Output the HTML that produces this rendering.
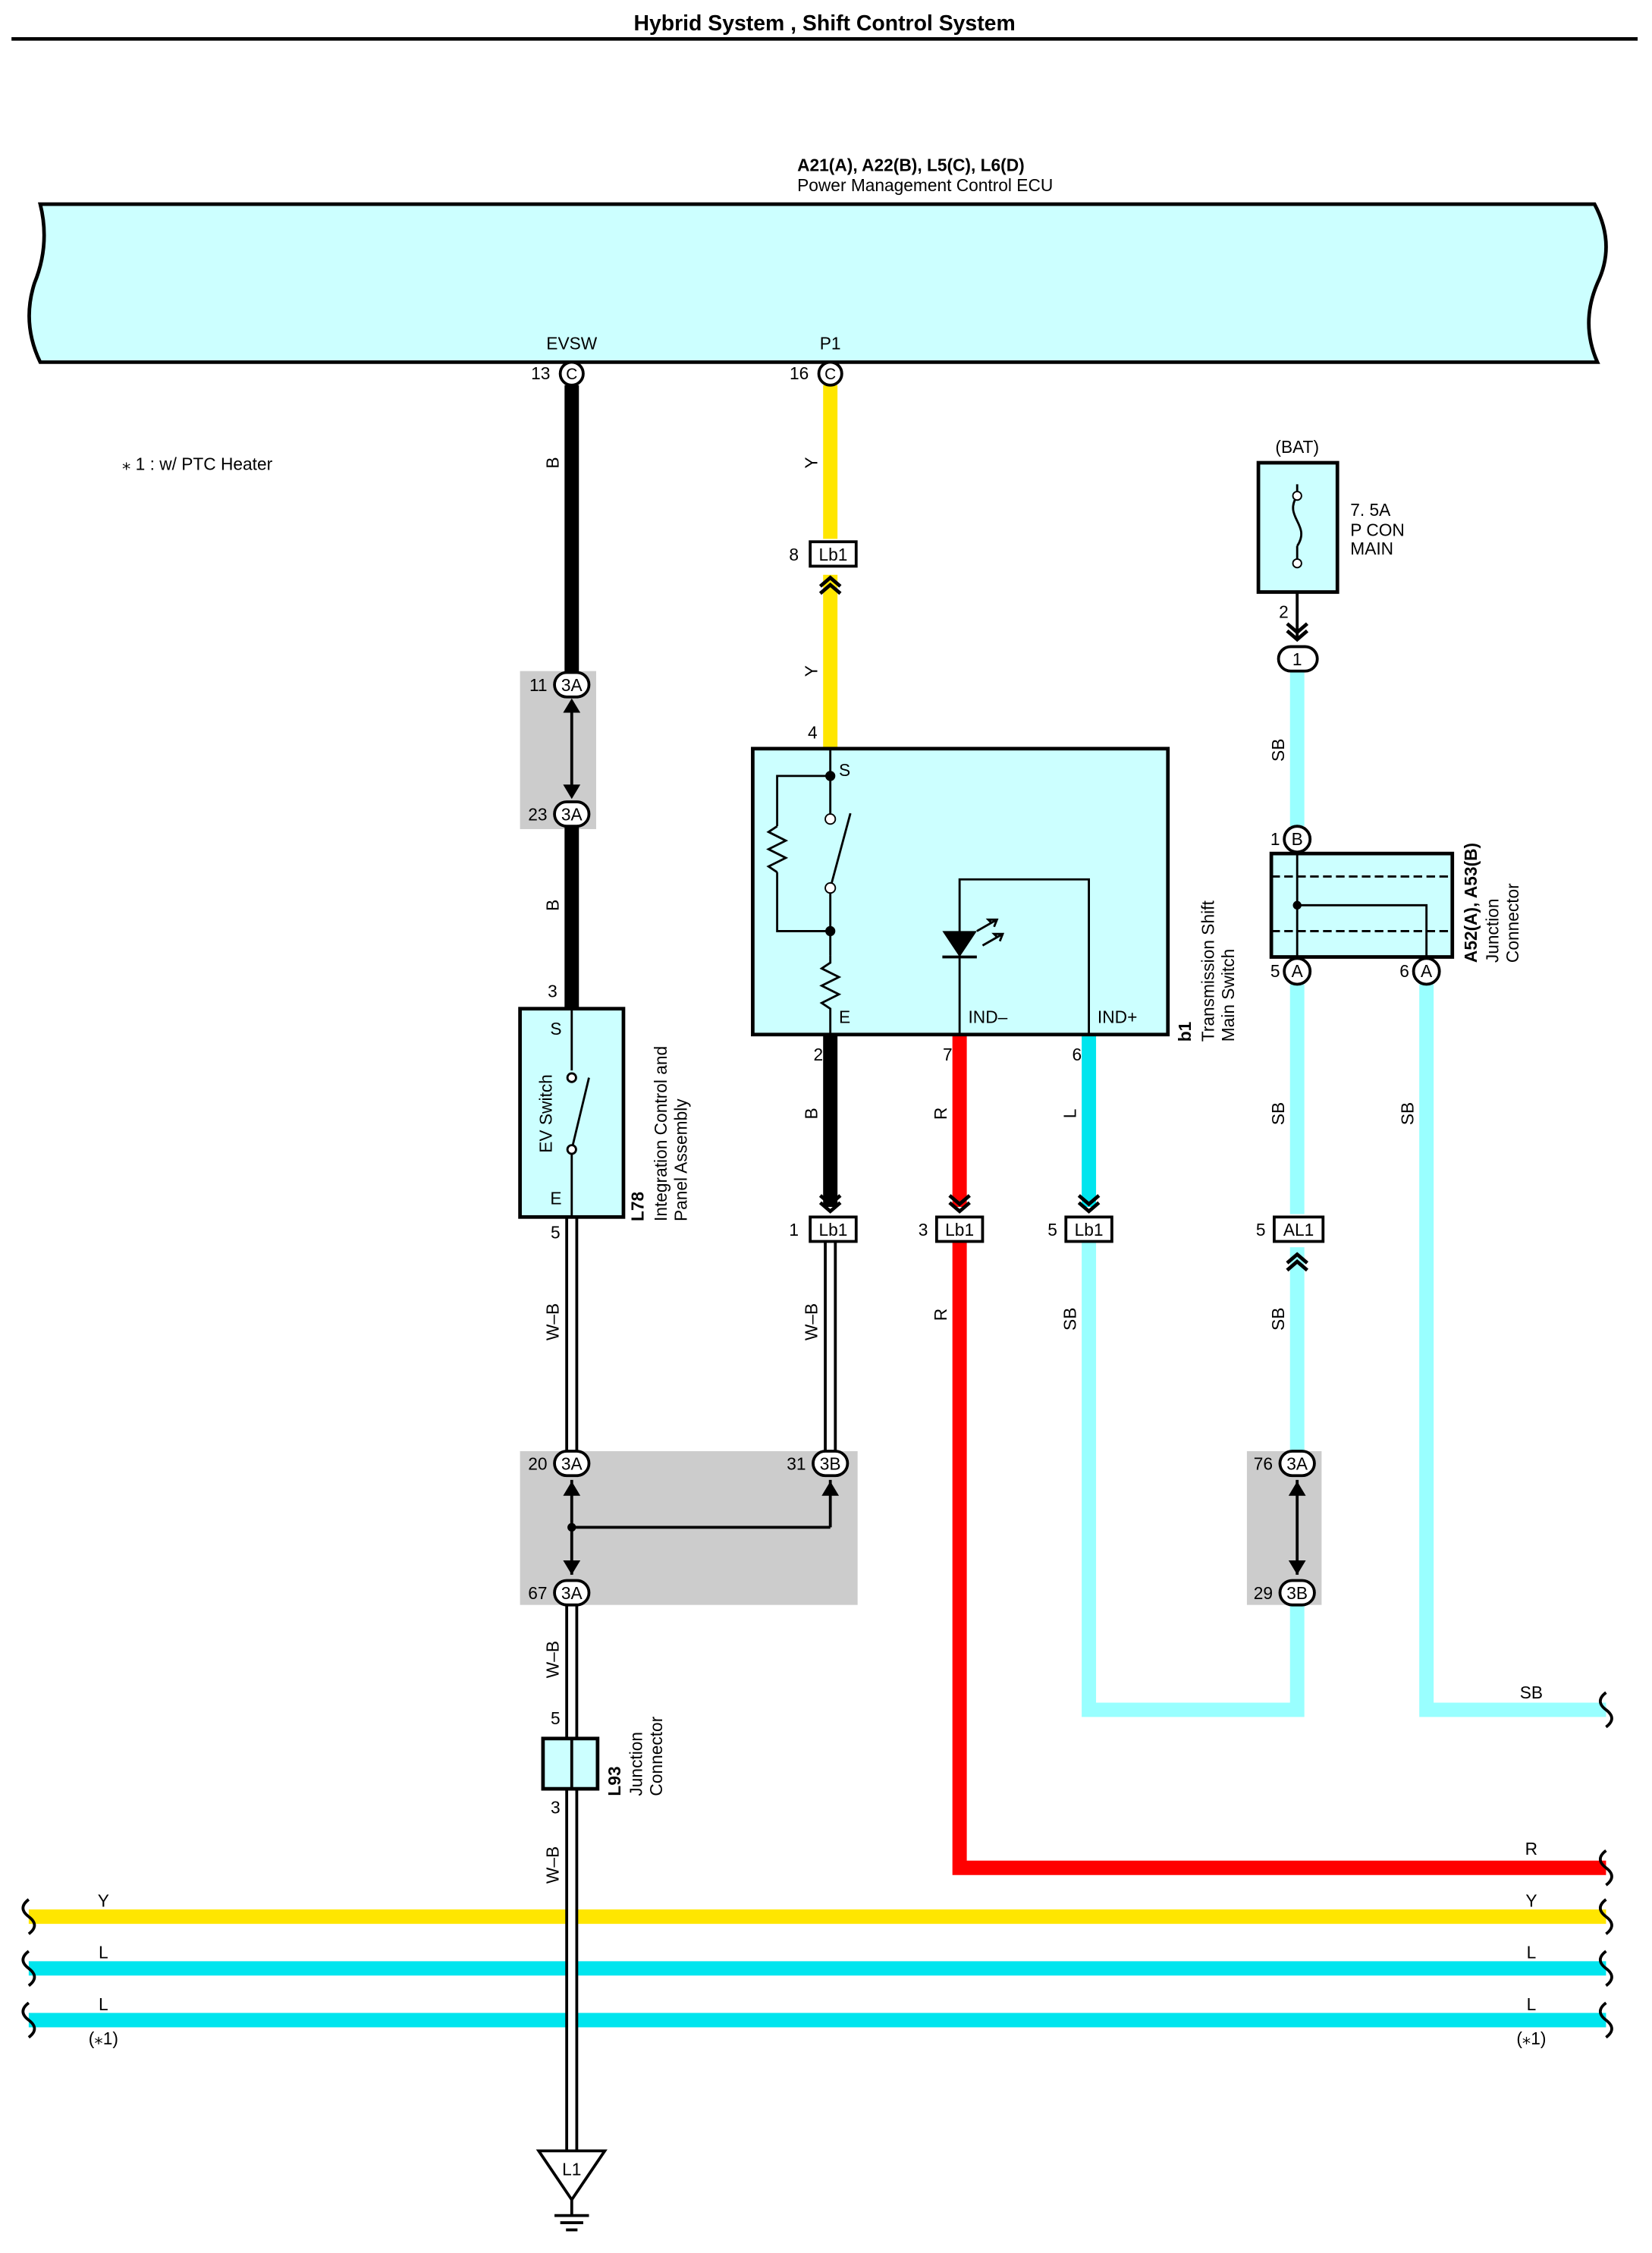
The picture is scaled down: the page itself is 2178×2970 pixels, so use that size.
<!DOCTYPE html>
<html><head><meta charset="utf-8"><style>
html,body{margin:0;padding:0;background:#fff}
svg{display:block}
text{font-family:"Liberation Sans",sans-serif;font-size:12px;fill:#000}
</style></head><body>
<svg width="2178" height="2970" viewBox="0 0 1150 1568" xmlns="http://www.w3.org/2000/svg">
<defs>
<g id="chevD"><path d="M-7,-8 L0,-2 L7,-8 M-7,-3 L0,3 L7,-3" fill="none" stroke="#000" stroke-width="2.5"/></g>
<g id="chevU"><path d="M-7,8 L0,2 L7,8 M-7,3 L0,-3 L7,3" fill="none" stroke="#000" stroke-width="2.5"/></g>
</defs>
<text x="574" y="21" text-anchor="middle" style="font-size:15px;font-weight:bold">Hybrid System , Shift Control System</text>
<line x1="8" y1="27" x2="1140" y2="27" stroke="#000" stroke-width="2.5"/>

<text x="555" y="119" style="font-weight:bold">A21(A), A22(B), L5(C), L6(D)</text>
<text x="555" y="133">Power Management Control ECU</text>
<path d="M28,142 L1110,142 Q1125,170 1112,197 Q1100,225 1112,252 L28,252 Q15,225 24,197 Q35,170 28,142Z" fill="#ccffff" stroke="#000" stroke-width="2.5"/>
<text x="398" y="243" text-anchor="middle">EVSW</text>
<text x="578" y="243" text-anchor="middle">P1</text>
<text x="85" y="327">⁎ 1 : w/ PTC Heater</text>

<!-- gray boxes -->
<rect x="362" y="467" width="53" height="110" fill="#ccc"/>
<rect x="362" y="1010" width="235" height="107" fill="#ccc"/>
<rect x="868" y="1010" width="52" height="107" fill="#ccc"/>

<!-- wires -->
<g fill="none" stroke-linecap="butt">
<line x1="398" y1="268" x2="398" y2="468" stroke="#000" stroke-width="10"/>
<line x1="398" y1="575" x2="398" y2="702" stroke="#000" stroke-width="10"/>
<line x1="578" y1="268" x2="578" y2="375" stroke="#ffe600" stroke-width="10"/>
<line x1="578" y1="400" x2="578" y2="521" stroke="#ffe600" stroke-width="10"/>
<line x1="578" y1="720" x2="578" y2="840" stroke="#000" stroke-width="10"/>
<line x1="668" y1="720" x2="668" y2="840" stroke="#ff0000" stroke-width="10"/>
<line x1="758" y1="720" x2="758" y2="840" stroke="#00e5ee" stroke-width="10"/>
<polyline points="668,864 668,1300 1118,1300" stroke="#ff0000" stroke-width="10"/>
<polyline points="758,864 758,1190 903,1190 903,1117" stroke="#99ffff" stroke-width="10"/>
<line x1="903" y1="466" x2="903" y2="575" stroke="#99ffff" stroke-width="10"/>
<line x1="903" y1="685" x2="903" y2="845" stroke="#99ffff" stroke-width="10"/>
<line x1="903" y1="868" x2="903" y2="1010" stroke="#99ffff" stroke-width="10"/>
<polyline points="993,685 993,1190 1118,1190" stroke="#99ffff" stroke-width="10"/>
<line x1="20" y1="1334" x2="1118" y2="1334" stroke="#ffe600" stroke-width="10"/>
<line x1="20" y1="1370" x2="1118" y2="1370" stroke="#00e5ee" stroke-width="10"/>
<line x1="20" y1="1406" x2="1118" y2="1406" stroke="#00e5ee" stroke-width="10"/>
<!-- W-B -->
<line x1="398" y1="847" x2="398" y2="1010" stroke="#000" stroke-width="9"/>
<line x1="398" y1="847" x2="398" y2="1010" stroke="#fff" stroke-width="5"/>
<line x1="398" y1="1116" x2="398" y2="1497" stroke="#000" stroke-width="9"/>
<line x1="398" y1="1116" x2="398" y2="1497" stroke="#fff" stroke-width="5"/>
<line x1="578" y1="864" x2="578" y2="1010" stroke="#000" stroke-width="9"/>
<line x1="578" y1="864" x2="578" y2="1010" stroke="#fff" stroke-width="5"/>
<line x1="398" y1="1063" x2="578" y2="1063" stroke="#000" stroke-width="2"/>
<line x1="578" y1="1030" x2="578" y2="1063" stroke="#000" stroke-width="2"/>
<line x1="398" y1="1030" x2="398" y2="1096" stroke="#000" stroke-width="2"/>
<line x1="398" y1="488" x2="398" y2="554" stroke="#000" stroke-width="2"/>
<line x1="903" y1="1030" x2="903" y2="1096" stroke="#000" stroke-width="2"/>
</g>
<!-- wavy ends -->
<g fill="none" stroke="#000" stroke-width="2">
<path d="M20,1322 q-8,6 0,12 q8,6 0,12"/><path d="M20,1358 q-8,6 0,12 q8,6 0,12"/><path d="M20,1394 q-8,6 0,12 q8,6 0,12"/>
<path d="M1118,1322 q-8,6 0,12 q8,6 0,12"/><path d="M1118,1358 q-8,6 0,12 q8,6 0,12"/><path d="M1118,1394 q-8,6 0,12 q8,6 0,12"/>
<path d="M1118,1288 q-8,6 0,12 q8,6 0,12"/><path d="M1118,1178 q-8,6 0,12 q8,6 0,12"/>
</g>
<!-- splice arrows -->
<path d="M392,496 L398,486 L404,496Z M392,546 L398,556 L404,546Z M392,1041 L398,1031 L404,1041Z M572,1041 L578,1031 L584,1041Z M392,1086 L398,1096 L404,1086Z M897,1041 L903,1031 L909,1041Z M897,1086 L903,1096 L909,1086Z"/>
<circle cx="398" cy="1063" r="3"/>

<!-- wire labels -->
<g style="font-size:12px">
<text transform="translate(389,322) rotate(-90)" text-anchor="middle">B</text>
<text transform="translate(389,630) rotate(-90)" text-anchor="middle">B</text>
<text transform="translate(389,920) rotate(-90)" text-anchor="middle">W–B</text>
<text transform="translate(389,1155) rotate(-90)" text-anchor="middle">W–B</text>
<text transform="translate(389,1298) rotate(-90)" text-anchor="middle">W–B</text>
<text transform="translate(569,322) rotate(-90)" text-anchor="middle">Y</text>
<text transform="translate(569,467) rotate(-90)" text-anchor="middle">Y</text>
<text transform="translate(569,775) rotate(-90)" text-anchor="middle">B</text>
<text transform="translate(569,920) rotate(-90)" text-anchor="middle">W–B</text>
<text transform="translate(659,775) rotate(-90)" text-anchor="middle">R</text>
<text transform="translate(659,915) rotate(-90)" text-anchor="middle">R</text>
<text transform="translate(749,775) rotate(-90)" text-anchor="middle">L</text>
<text transform="translate(749,918) rotate(-90)" text-anchor="middle">SB</text>
<text transform="translate(894,522) rotate(-90)" text-anchor="middle">SB</text>
<text transform="translate(894,775) rotate(-90)" text-anchor="middle">SB</text>
<text transform="translate(894,918) rotate(-90)" text-anchor="middle">SB</text>
<text transform="translate(984,775) rotate(-90)" text-anchor="middle">SB</text>
<text x="1066" y="1182" text-anchor="middle">SB</text>
<text x="1066" y="1291" text-anchor="middle">R</text>
<text x="72" y="1327" text-anchor="middle">Y</text><text x="1066" y="1327" text-anchor="middle">Y</text>
<text x="72" y="1363" text-anchor="middle">L</text><text x="1066" y="1363" text-anchor="middle">L</text>
<text x="72" y="1399" text-anchor="middle">L</text><text x="1066" y="1399" text-anchor="middle">L</text>
<text x="72" y="1423" text-anchor="middle">(⁎1)</text><text x="1066" y="1423" text-anchor="middle">(⁎1)</text>
</g>

<!-- ECU pins -->
<g stroke="#000" stroke-width="2" fill="#fff">
<circle cx="398" cy="260" r="8"/><circle cx="578" cy="260" r="8"/>
</g>
<text x="398" y="264" text-anchor="middle" style="font-size:11px">C</text>
<text x="578" y="264" text-anchor="middle" style="font-size:11px">C</text>
<text x="383" y="264" text-anchor="end">13</text><text x="563" y="264" text-anchor="end">16</text>

<!-- round connectors -->
<g stroke="#000" stroke-width="2" fill="#fff">
<rect x="386" y="468" width="24" height="17" rx="8.5"/>
<rect x="386" y="558" width="24" height="17" rx="8.5"/>
<rect x="386" y="1010" width="24" height="17" rx="8.5"/>
<rect x="566" y="1010" width="24" height="17" rx="8.5"/>
<rect x="386" y="1100" width="24" height="17" rx="8.5"/>
<rect x="891" y="1010" width="24" height="17" rx="8.5"/>
<rect x="891" y="1100" width="24" height="17" rx="8.5"/>
<rect x="890" y="450" width="27" height="17" rx="8.5"/>
<circle cx="903" cy="584" r="9"/><circle cx="903" cy="676" r="9"/><circle cx="993" cy="676" r="9"/>
</g>
<g style="font-size:11px" text-anchor="middle">
<text x="398" y="481">3A</text><text x="398" y="571">3A</text><text x="398" y="1023">3A</text><text x="578" y="1023">3B</text>
<text x="398" y="1113">3A</text><text x="903" y="1023">3A</text><text x="903" y="1113">3B</text><text x="903" y="463">1</text>
<text x="903" y="588">B</text><text x="903" y="680">A</text><text x="993" y="680">A</text>
</g>
<g text-anchor="end">
<text x="381" y="481">11</text><text x="381" y="571">23</text><text x="381" y="1023">20</text><text x="561" y="1023">31</text>
<text x="381" y="1113">67</text><text x="886" y="1023">76</text><text x="886" y="1113">29</text>
<text x="891" y="588">1</text><text x="891" y="680">5</text><text x="981" y="680">6</text>
</g>

<!-- Lb1 connectors -->
<g stroke="#000" stroke-width="2" fill="#fff">
<rect x="564" y="377" width="32" height="17"/>
<rect x="564" y="847" width="32" height="17"/>
<rect x="652" y="847" width="32" height="17"/>
<rect x="742" y="847" width="32" height="17"/>
<rect x="887" y="847" width="34" height="17"/>
</g>
<g style="font-size:11px" text-anchor="middle">
<text x="580" y="390">Lb1</text><text x="580" y="860">Lb1</text><text x="668" y="860">Lb1</text><text x="758" y="860">Lb1</text><text x="904" y="860">AL1</text>
</g>
<g text-anchor="end"><text x="556" y="390">8</text><text x="556" y="860">1</text><text x="646" y="860">3</text><text x="736" y="860">5</text><text x="881" y="860">5</text></g>
<use href="#chevU" x="578" y="405"/>
<use href="#chevD" x="578" y="840"/><use href="#chevD" x="668" y="840"/><use href="#chevD" x="758" y="840"/>
<use href="#chevU" x="903" y="876"/>
<use href="#chevD" x="903" y="442"/>

<!-- EV switch -->
<rect x="362" y="702" width="72" height="145" fill="#ccffff" stroke="#000" stroke-width="2.5"/>
<text x="387" y="720" text-anchor="middle">S</text><text x="387" y="838" text-anchor="middle">E</text>
<text transform="translate(384,775) rotate(-90)" text-anchor="middle">EV Switch</text>
<g stroke="#000" stroke-width="1.5" fill="#fff">
<line x1="398" y1="702" x2="398" y2="745"/><line x1="398" y1="800" x2="398" y2="847"/>
<line x1="398" y1="800" x2="410" y2="750"/>
<circle cx="398" cy="750" r="3"/><circle cx="398" cy="800" r="3"/></g>
<text x="388" y="694" text-anchor="end">3</text><text x="390" y="862" text-anchor="end">5</text>
<text transform="translate(448,850) rotate(-90)" style="font-weight:bold">L78</text>
<text transform="translate(464,850) rotate(-90)">Integration Control and</text>
<text transform="translate(478,850) rotate(-90)">Panel Assembly</text>

<!-- Transmission shift switch -->
<rect x="524" y="521" width="289" height="199" fill="#ccffff" stroke="#000" stroke-width="2.5"/>
<text x="569" y="514" text-anchor="end">4</text>
<text x="584" y="540">S</text><text x="584" y="712">E</text>
<text x="674" y="712">IND–</text><text x="764" y="712">IND+</text>
<text x="573" y="738" text-anchor="end">2</text><text x="663" y="738" text-anchor="end">7</text><text x="753" y="738" text-anchor="end">6</text>
<g stroke="#000" stroke-width="1.5" fill="none">
<line x1="578" y1="521" x2="578" y2="570"/>
<line x1="578" y1="618" x2="592" y2="566"/>
<line x1="578" y1="618" x2="578" y2="665"/>
<path d="M578,665 l0,5 l-6,4 l12,6 l-12,6 l12,6 l-12,6 l6,4 l0,18"/>
<polyline points="578,540 541,540 541,575"/>
<path d="M541,575 l-6,4 l12,6 l-12,6 l12,6 l-12,6 l6,4"/>
<polyline points="541,607 541,648 578,648"/>
<polyline points="668,720 668,612 758,612 758,720"/>
<path d="M680,648 l14,-8 M690,642 l-2,-2 l6,0 l-2,5 M684,658 l14,-8 M694,652 l-2,-2 l6,0 l-2,5"/>
</g>
<path d="M656,648 L680,648 L668,666Z" fill="#000"/>
<line x1="656" y1="666" x2="680" y2="666" stroke="#000" stroke-width="2"/>
<g fill="#000"><circle cx="578" cy="540" r="3.5"/><circle cx="578" cy="570" r="3.5" fill="#fff" stroke="#000"/><circle cx="578" cy="618" r="3.5" fill="#fff" stroke="#000"/><circle cx="578" cy="648" r="3.5"/></g>
<text transform="translate(829,725) rotate(-90)" style="font-weight:bold">b1</text>
<text transform="translate(845,725) rotate(-90)">Transmission Shift</text>
<text transform="translate(859,725) rotate(-90)">Main Switch</text>

<!-- Fuse -->
<text x="903" y="315" text-anchor="middle">(BAT)</text>
<rect x="876" y="322" width="55" height="90" fill="#ccffff" stroke="#000" stroke-width="2.5"/>
<path d="M903,345 c-10,15 10,20 0,35 M903,345 v-8 M903,380 v12" fill="none" stroke="#000" stroke-width="1.5"/>
<circle cx="903" cy="345" r="3" fill="#fff" stroke="#000"/><circle cx="903" cy="392" r="3" fill="#fff" stroke="#000"/>
<line x1="903" y1="412" x2="903" y2="445" stroke="#000" stroke-width="2"/>
<text x="940" y="359">7. 5A</text><text x="940" y="373">P CON</text><text x="940" y="386">MAIN</text>
<text x="897" y="430" text-anchor="end">2</text>

<!-- Junction connector A52 -->
<rect x="885" y="594" width="126" height="72" fill="#ccffff" stroke="#000" stroke-width="2.5"/>
<line x1="885" y1="610" x2="1011" y2="610" stroke="#000" stroke-width="1.5" stroke-dasharray="6,3"/>
<line x1="885" y1="648" x2="1011" y2="648" stroke="#000" stroke-width="1.5" stroke-dasharray="6,3"/>
<g stroke="#000" stroke-width="1.5" fill="none"><line x1="903" y1="593" x2="903" y2="667"/><polyline points="903,630 993,630 993,667"/></g>
<circle cx="903" cy="630" r="3"/>
<text transform="translate(1028,670) rotate(-90)" style="font-weight:bold">A52(A), A53(B)</text>
<text transform="translate(1043,670) rotate(-90)">Junction</text>
<text transform="translate(1057,670) rotate(-90)">Connector</text>

<!-- L93 -->
<rect x="378" y="1210" width="38" height="35" fill="#ccffff" stroke="#000" stroke-width="2.5"/>
<line x1="398" y1="1210" x2="398" y2="1245" stroke="#000" stroke-width="2"/>
<text x="390" y="1200" text-anchor="end">5</text><text x="390" y="1262" text-anchor="end">3</text>
<text transform="translate(432,1250) rotate(-90)" style="font-weight:bold">L93</text>
<text transform="translate(447,1250) rotate(-90)">Junction</text>
<text transform="translate(461,1250) rotate(-90)">Connector</text>

<!-- Ground -->
<path d="M375,1497 L421,1497 L398,1531Z" fill="#fff" stroke="#000" stroke-width="2"/>
<text x="398" y="1514" text-anchor="middle">L1</text>
<g stroke="#000" stroke-width="2"><line x1="398" y1="1531" x2="398" y2="1542"/><line x1="386" y1="1542" x2="410" y2="1542"/><line x1="390" y1="1547" x2="406" y2="1547"/><line x1="394" y1="1552" x2="402" y2="1552"/></g>
</svg>
</body></html>
